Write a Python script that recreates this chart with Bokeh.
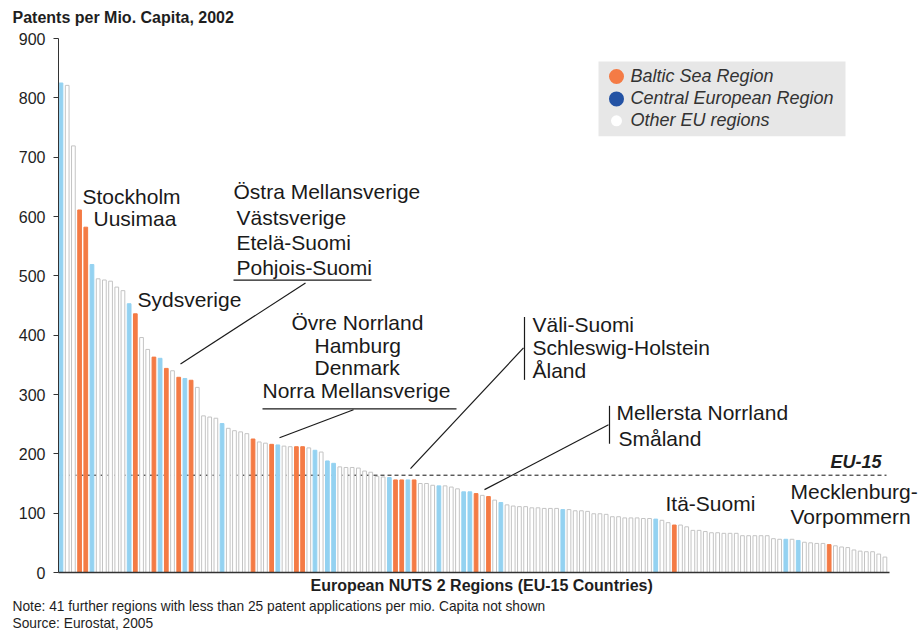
from bokeh.plotting import figure
from bokeh.models import ColumnDataSource, Title, FixedTicker, Range1d
from bokeh.core.properties import value
from bokeh.embed import file_html
from bokeh.resources import INLINE

# ---------------- data ----------------
patents = [825, 821, 719, 611, 582, 519, 495, 493, 491, 481,
           475, 453, 436, 396, 376, 363, 361, 344, 340, 329,
           327, 324, 312, 264, 262, 260, 251, 243, 239, 237,
           234, 225, 220, 218, 216, 215, 213, 212, 212, 212,
           210, 206, 203, 188, 184, 178, 177, 177, 176, 171,
           169, 162, 161, 160, 156, 156, 156, 156, 150, 150,
           147, 146, 146, 144, 141, 136, 136, 133, 130, 128,
           122, 118, 114, 112, 111, 111, 109, 109, 108, 108,
           108, 106, 106, 104, 104, 103, 99, 99, 98, 94,
           94, 92, 92, 92, 91, 91, 90, 88, 84, 80,
           80, 77, 71, 71, 69, 67, 67, 66, 66, 66,
           62, 62, 62, 62, 62, 57, 56, 56, 56, 54,
           51, 50, 49, 49, 47, 45, 43, 42, 38, 36,
           35, 35, 31, 26]

# B = Baltic Sea Region, C = Central European Region, O = Other EU regions
region_group = list("COOBBCOOOO" "OCBOOBCBOB" "CBOOOOCOOO" "OBOOBCOOBB"
                    "OCOCCOOOOO" "OOOCBBCBOO" "OCOOOCCBOB" "OCOOOOOOOO"
                    "OCOOOOOOOO" "OOOOOOCOOB" "OOOOOOOOOO" "OOOOOOOCOC"
                    "OOOOBOOOOO" "OOOO")

EU15 = 164
y_ticks = [0, 100, 200, 300, 400, 500, 600, 700, 800, 900]
Y_MAX = 900

legend_names = ["Baltic Sea Region", "Central European Region", "Other EU regions"]

label_groups = [["Stockholm", "Uusimaa"],
                ["Sydsverige"],
                ["Östra Mellansverige", "Västsverige", "Etelä-Suomi", "Pohjois-Suomi"],
                ["Övre Norrland", "Hamburg", "Denmark", "Norra Mellansverige"],
                ["Väli-Suomi", "Schleswig-Holstein", "Åland"],
                ["Mellersta Norrland", "Småland"],
                ["Itä-Suomi"],
                ["Mecklenburg-", "Vorpommern"]]

title_text = "Patents per Mio. Capita, 2002"
xlabel_text = "European NUTS 2 Regions (EU-15 Countries)"
note_text = "Note: 41 further regions with less than 25 patent applications per mio. Capita not shown"
source_text = "Source: Eurostat, 2005"

# ---------------- styling ----------------
FONT = "Liberation Sans"
ORANGE = "#F47B45"
LIGHTBLUE = "#94D2F1"
DARKBLUE = "#2352A4"
TXT = "#1E1E1E"
fill_map = {"B": ORANGE, "C": LIGHTBLUE, "O": "#FFFFFF"}
line_map = {"B": ORANGE, "C": LIGHTBLUE, "O": "#C4C4C4"}

# canvas-pixel -> data helpers (for annotation layout only)
W, H = 920, 630
FL, FR, FT, FB = 58, 920, 38, 573         # frame edges in canvas pixels
AXIS_END = 889                            # right end of the drawn x axis line
PX0, PITCH = 60.5, 6.195
PPU = (FB - FT) / float(Y_MAX)


def X(px):
    return (px - PX0) / PITCH


def Y(py):
    return (FB - py) / PPU


p = figure(width=W, height=H, x_range=Range1d(X(FL), X(FR)), y_range=Range1d(0, Y_MAX),
           output_backend="svg", toolbar_location=None, title=None,
           min_border_left=FL, min_border_right=W - FR, min_border_top=FT, min_border_bottom=H - FB)
p.xgrid.visible = False
p.ygrid.visible = False
p.outline_line_color = None
p.background_fill_color = "white"
p.border_fill_color = "white"

# chart title: a small blank spacer panel next to the frame, then the title itself
p.add_layout(Title(text=" ", text_font=FONT, text_font_size="8px", standoff=1.5), "above")
p.add_layout(Title(text=title_text, align="left", offset=12 - FL, standoff=0,
                   text_font=FONT, text_font_style="bold", text_font_size="16px",
                   text_color=TXT), "above")

# axes
yax = p.yaxis[0]
yax.ticker = FixedTicker(ticks=y_ticks)
yax.major_tick_in = 0
yax.major_tick_out = 5
yax.minor_tick_in = 0
yax.minor_tick_out = 0
yax.major_label_standoff = 8
yax.major_label_text_font = FONT
yax.major_label_text_font_size = "16px"
yax.major_label_text_color = TXT
yax.axis_line_color = "#333333"
yax.major_tick_line_color = "#333333"

xax = p.xaxis[0]
xax.ticker = FixedTicker(ticks=[])
xax.bounds = (X(FL), X(AXIS_END))
xax.major_tick_in = 0
xax.major_tick_out = 0
xax.minor_tick_in = 0
xax.minor_tick_out = 0
xax.major_label_standoff = 0
xax.axis_line_color = "#333333"
xax.axis_line_width = 1.5

# x-axis caption, note and source lines below the axis
p.add_layout(Title(text=xlabel_text, align="left", offset=310 - FL, standoff=5,
                   text_font=FONT, text_font_style="bold", text_font_size="16px",
                   text_color=TXT), "below")
for txt in (note_text, source_text):
    p.add_layout(Title(text=txt, align="left", offset=12 - FL, standoff=0,
                       text_font=FONT, text_font_style="normal", text_font_size="13.75px",
                       text_color=TXT), "below")

# EU-15 average line (beneath the bars)
p.line(x=[X(FL), X(886)], y=[EU15, EU15], line_color="#111111", line_width=1, line_dash="4 3")

# bars
src = ColumnDataSource(dict(
    x=list(range(len(patents))),
    top=patents,
    fill=[fill_map[g] for g in region_group],
    line=[line_map[g] for g in region_group],
))
p.vbar(x="x", top="top", bottom=0, width=0.6, fill_color="fill", line_color="line",
       line_width=1, source=src)

# legend box
p.quad(left=X(598), right=X(845), top=Y(61), bottom=Y(136), fill_color="#E7E7E7", line_color=None)
leg_y = [Y(76), Y(98.5), Y(120.5)]
p.scatter(x=[X(616)] * 3, y=leg_y, size=[15, 15, 11],
          fill_color=[ORANGE, DARKBLUE, "#FFFFFF"], line_color=None)
p.text(x=[X(630)] * 3, y=[Y(75.5), Y(98), Y(120)], text=legend_names, text_baseline="middle",
       text_align="left", text_font=value(FONT), text_font_style="italic",
       text_font_size="18px", text_color="#333333")

# EU-15 label
p.text(x=[X(830)], y=[Y(462.5)], text=["EU-15"], text_baseline="middle",
       text_font=value(FONT), text_font_style="bold italic", text_font_size="18px",
       text_color=TXT)

# region name annotations: (canvas x, canvas y of the line's centre)
anno_pos = [[(82, 196.5), (93, 218.5)],
            [(137, 299.5)],
            [(233, 191.5), (236, 217.5), (236, 242.5), (236, 267.5)],
            [(291, 322.5), (314, 345.5), (314, 367.5), (262, 390.5)],
            [(532, 324.5), (532, 347.5), (532, 370.5)],
            [(616, 412.5), (618, 438.5)],
            [(665, 503.5)],
            [(790, 492), (790, 517)]]
ax_, ay_, at_ = [], [], []
for names, poss in zip(label_groups, anno_pos):
    for name, (px, py) in zip(names, poss):
        ax_.append(X(px))
        ay_.append(Y(py))
        at_.append(name)
p.text(x=ax_, y=ay_, text=at_, text_font_size="21px", text_baseline="middle", text_align="left",
       text_font=value(FONT), text_color="#1A1A1A")

# connectors, underlines and bracket bars (canvas pixels -> data)
segs = [((305, 283), (180, 364)),
        ((353, 410), (279, 438)),
        ((523, 348), (410, 469)),
        ((608, 425), (484, 490)),
        ((233, 280), (371, 280)),
        ((262, 409), (456, 409)),
        ((524, 317), (524, 380)),
        ((609, 406), (609, 444))]
p.segment(x0=[X(a[0]) for a, b in segs], y0=[Y(a[1]) for a, b in segs],
          x1=[X(b[0]) for a, b in segs], y1=[Y(b[1]) for a, b in segs],
          line_color="#1A1A1A", line_width=1.2)

open("out.html", "w").write(file_html(p, INLINE))
